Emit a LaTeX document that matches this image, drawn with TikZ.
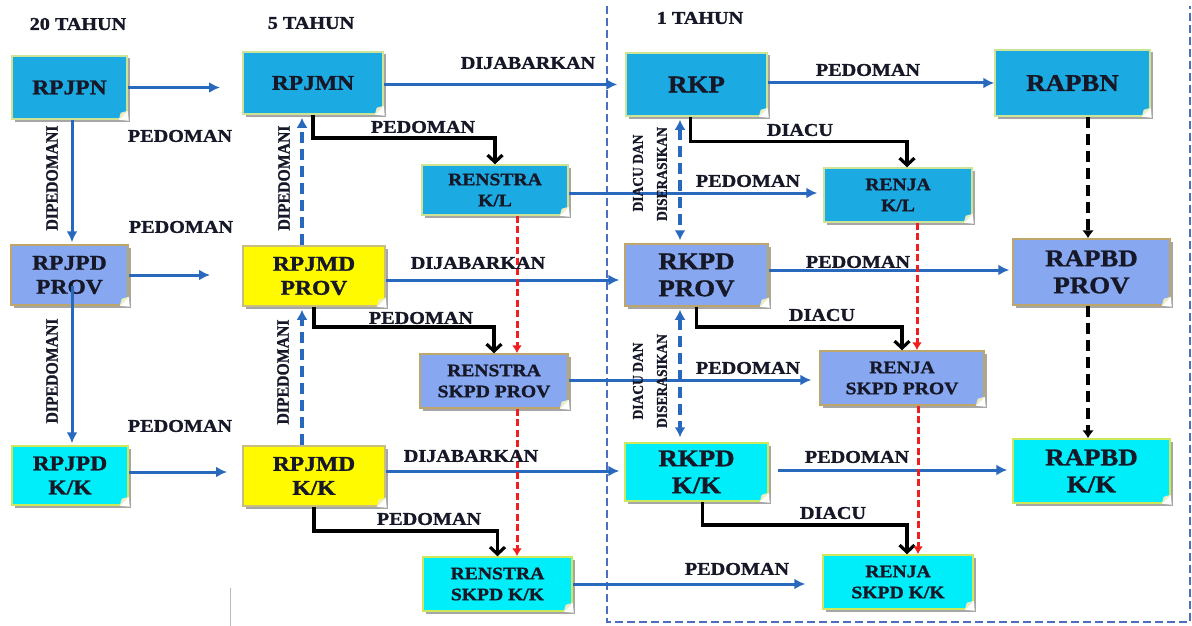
\documentclass[tikz,border=0pt]{standalone}
\usepackage{fontspec}
\setmainfont{Liberation Serif}[FakeStretch=1.12, BoldFeatures={FakeBold=1.2}]
\newfontfamily\vfont{Liberation Serif}[FakeStretch=0.9, BoldFeatures={FakeBold=1}]
\usetikzlibrary{arrows.meta,shadows,calc}
\definecolor{topc}{RGB}{28,170,226}
\definecolor{topb}{RGB}{205,228,150}
\definecolor{provc}{RGB}{135,168,240}
\definecolor{provb}{RGB}{190,165,105}
\definecolor{yelc}{RGB}{255,250,0}
\definecolor{yelb}{RGB}{200,190,130}
\definecolor{kkc}{RGB}{0,238,250}
\definecolor{kkb}{RGB}{205,232,90}
\definecolor{txt}{RGB}{22,24,40}
\definecolor{bline}{RGB}{40,105,190}
\definecolor{framec}{RGB}{75,110,190}
\definecolor{redc}{RGB}{240,30,30}
\definecolor{foldc}{RGB}{236,236,190}
\newcommand\foldcorner[1]{%
  \fill[white] ([xshift=-9pt]#1.south east) -- ([xshift=1pt,yshift=-1pt]#1.south east) -- ([yshift=9pt]#1.south east) -- cycle;
  \fill[foldc] ([xshift=-9pt]#1.south east) -- ([yshift=9pt]#1.south east) -- ([xshift=-7pt,yshift=7pt]#1.south east) -- cycle;}
\begin{document}
\begin{tikzpicture}[x=1pt,y=-1pt,
  box/.style={rectangle, line width=1.5pt, inner sep=0pt, align=center, text=txt,
    drop shadow={shadow xshift=2.5pt, shadow yshift=-2.5pt, opacity=.35, fill=black}},
  topbox/.style={box, fill=topc, draw=topb},
  provbox/.style={box, fill=provc, draw=provb},
  yelbox/.style={box, fill=yelc, draw=yelb},
  kkbox/.style={box, fill=kkc, draw=kkb},
  fa/.style={font=\bfseries\fontsize{21}{24}\selectfont},
  fb/.style={font=\bfseries\fontsize{24}{27}\selectfont},
  fc/.style={font=\bfseries\fontsize{17.5}{21}\selectfont},
  lbl/.style={font=\bfseries\fontsize{18}{20}\selectfont, text=txt, inner sep=0pt},
  vlbl/.style={font=\vfont\bfseries\fontsize{17.5}{19}\selectfont, text=txt, inner sep=0pt, rotate=90},
  dlbl/.style={font=\vfont\bfseries\fontsize{15}{16}\selectfont, text=txt, inner sep=0pt, rotate=90},
  barrow/.style={draw=bline, line width=3pt, -{Latex[length=11pt,width=11pt]}},
  bdash/.style={draw=bline, line width=3.5pt, dash pattern=on 11pt off 6pt, -{Latex[length=10pt,width=11pt]}},
  bdash2/.style={draw=bline, line width=3.5pt, dash pattern=on 11pt off 6pt, {Latex[length=10pt,width=11pt]}-{Latex[length=10pt,width=11pt]}},
  karrow/.style={draw=black, line width=3.2pt, -{Straight Barb[length=7pt,width=15pt]}},
  rarrow/.style={draw=redc, line width=3pt, dash pattern=on 7pt off 3.5pt, -{Latex[length=8pt,width=10pt]}},
  kdash/.style={draw=black, line width=4.5pt, dash pattern=on 11pt off 6pt, -{Latex[length=8pt,width=12pt]}},
  frame/.style={draw=framec, line width=2.4pt, dash pattern=on 8pt off 4pt}
]
\useasboundingbox (0,0) rectangle (1192,626);
\fill[white] (0,0) rectangle (1192,626);

% frame of the one-year zone
\draw[frame] (607,6) -- (607,622) -- (1190,622) -- (1190,6);
\draw[gray!55, line width=1pt] (230,588) -- (230,626);

% headers
\node[lbl] (h20) at (78,24) {20 TAHUN};
\node[lbl] (h5) at (311,23) {5 TAHUN};
\node[lbl] (h1) at (700,18) {1 TAHUN};

% boxes
\node[topbox, fa, minimum width=115pt, minimum height=63pt] (rpjpn) at (69.5,87.5) {RPJPN};
\node[topbox, fa, minimum width=140pt, minimum height=62pt] (rpjmn) at (313,83) {RPJMN};
\node[topbox, fb, minimum width=141pt, minimum height=63pt] (rkp) at (696.5,84.5) {RKP};
\node[topbox, fb, minimum width=155pt, minimum height=66pt] (rapbn) at (1072.5,83) {RAPBN};
\node[topbox, fc, minimum width=146pt, minimum height=50pt] (renkl) at (495,190) {RENSTRA\\K/L};
\node[topbox, fc, minimum width=148pt, minimum height=54pt] (renjakl) at (898,195) {RENJA\\K/L};

\node[provbox, fa, minimum width=117pt, minimum height=60pt] (rpjpdprov) at (69.5,275) {RPJPD\\PROV};
\node[yelbox, fa, minimum width=142pt, minimum height=60pt] (rpjmdprov) at (314,276) {RPJMD\\PROV};
\node[provbox, fb, minimum width=143pt, minimum height=62pt] (rkpdprov) at (696.5,275) {RKPD\\PROV};
\node[provbox, fb, minimum width=157pt, minimum height=66pt] (rapbdprov) at (1091.5,272) {RAPBD\\PROV};
\node[provbox, fc, minimum width=148pt, minimum height=54pt] (renprov) at (494,381) {RENSTRA\\SKPD PROV};
\node[provbox, fc, minimum width=164pt, minimum height=54pt] (renjaprov) at (902,378) {RENJA\\SKPD PROV};

\node[kkbox, fa, minimum width=116pt, minimum height=59pt] (rpjpdkk) at (70,475.5) {RPJPD\\K/K};
\node[yelbox, fa, minimum width=142pt, minimum height=60pt] (rpjmdkk) at (314,476) {RPJMD\\K/K};
\node[kkbox, fb, minimum width=143pt, minimum height=58pt] (rkpdkk) at (696.5,472) {RKPD\\K/K};
\node[kkbox, fb, minimum width=157pt, minimum height=64pt] (rapbdkk) at (1091.5,471) {RAPBD\\K/K};
\node[kkbox, fc, minimum width=149pt, minimum height=54pt] (renkk) at (497.5,584) {RENSTRA\\SKPD K/K};
\node[kkbox, fc, minimum width=150pt, minimum height=54pt] (renjakk) at (898,582) {RENJA\\SKPD K/K};

\foreach \n in {rpjpn,rpjmn,rkp,rapbn,renkl,renjakl,rpjpdprov,rpjmdprov,rkpdprov,rapbdprov,renprov,renjaprov,rpjpdkk,rpjmdkk,rkpdkk,rapbdkk,renkk,renjakk}{\foldcorner{\n}}

% free ends
\coordinate (e1) at (220,87.5);
\coordinate (e2) at (210,275);
\coordinate (e3) at (227,472);

% blue solid arrows
\draw[barrow] (rpjpn.east) -- (e1);
\draw[barrow] (rpjpdprov.east) -- (e2);
\draw[barrow] (rpjpdkk.east |- 0,472) -- (e3);
\draw[barrow] (rpjpn.south -| 72,0) -- ([yshift=2pt]rpjpdprov.north -| 72,0);
\draw[barrow] ([yshift=20pt]rpjpdprov.south -| 72,0) -- ([yshift=2pt]rpjpdkk.north -| 72,0);
\draw[barrow, shorten >=8pt] (rkp.west -| rpjmn.east) -- (rkp.west);
\draw[barrow] (rapbn.west -| rkp.east) -- (rapbn.west);
\draw[barrow, shorten >=5pt] (rpjmdprov.east |- 0,280) -- (rkpdprov.west |- 0,280);
\draw[barrow, shorten >=5pt] (rpjmdkk.east |- 0,471) -- (rkpdkk.west |- 0,471);
\draw[barrow, shorten >=3pt] (rkpdprov.east |- 0,270) -- (rapbdprov.west |- 0,270);
\draw[barrow, shorten >=5pt] ([xshift=9pt]rkpdkk.east |- 0,470) -- (rapbdkk.west |- 0,470);
\draw[barrow, shorten >=6pt] (renkl.east |- 0,193) -- (renjakl.west |- 0,193);
\draw[barrow, shorten >=8pt] (renprov.east |- 0,380) -- (renjaprov.west |- 0,380);
\draw[barrow, shorten >=17pt] (renkk.east |- 0,584) -- (renjakk.west |- 0,584);

% blue dashed arrows
\draw[bdash, shorten >=3pt] (rpjmdprov.north -| 302,0) -- (rpjmn.south -| 302,0);
\draw[bdash, shorten >=3pt] (rpjmdkk.north -| 302,0) -- (rpjmdprov.south -| 302,0);
\draw[bdash2, shorten >=3pt, shorten <=3pt] (rkp.south -| 680,0) -- (rkpdprov.north -| 680,0);
\draw[bdash2, shorten >=5pt, shorten <=3pt] (rkpdprov.south -| 680,0) -- (rkpdkk.north -| 680,0);

% black elbow arrows
\draw[karrow] (rpjmn.south) -- (rpjmn.south |- 0,138) -| (renkl.north);
\draw[karrow] (rpjmdprov.south) -- (rpjmdprov.south |- 0,327) -| (renprov.north);
\draw[karrow] (rpjmdkk.south) -- (rpjmdkk.south |- 0,531) -| (renkk.north);
\draw[karrow] ([xshift=-6pt]rkp.south) -- ++(0,25) -| ([xshift=9pt]renjakl.north);
\draw[karrow] (rkpdprov.south) -- (rkpdprov.south |- 0,327) -| (renjaprov.north);
\draw[karrow] ([xshift=6pt]rkpdkk.south) -- ([xshift=6pt]rkpdkk.south |- 0,525) -| ([xshift=9pt]renjakk.north);

% red dashed arrows
\draw[rarrow] (renkl.south -| 517,0) -- (renprov.north -| 517,0);
\draw[rarrow] (renprov.south -| 517,0) -- (renkk.north -| 517,0);
\draw[rarrow] (renjakl.south -| 917,0) -- (renjaprov.north -| 917,0);
\draw[rarrow] (renjaprov.south -| 918,0) -- (renjakk.north -| 918,0);

% black dashed arrows
\draw[kdash] (rapbn.south -| 1088,0) -- (rapbdprov.north -| 1088,0);
\draw[kdash] (rapbdprov.south -| 1088,0) -- (rapbdkk.north -| 1088,0);

% labels
\node[lbl] (l1) at (180,136) {PEDOMAN};
\node[lbl] (l2) at (528,63) {DIJABARKAN};
\node[lbl] (l3) at (868,70) {PEDOMAN};
\node[lbl] (l4) at (181,227) {PEDOMAN};
\node[lbl] (l5) at (180,426) {PEDOMAN};
\node[lbl] (l6) at (423,127) {PEDOMAN};
\node[lbl] (l7) at (421,318) {PEDOMAN};
\node[lbl] (l8) at (429,519) {PEDOMAN};
\node[lbl] (l9) at (800,130) {DIACU};
\node[lbl] (l10) at (822,315) {DIACU};
\node[lbl] (l11) at (833,513) {DIACU};
\node[lbl] (l12) at (748,181) {PEDOMAN};
\node[lbl] (l13) at (748,368) {PEDOMAN};
\node[lbl] (l14) at (737,569) {PEDOMAN};
\node[lbl] (l15) at (478,263) {DIJABARKAN};
\node[lbl] (l16) at (471,456) {DIJABARKAN};
\node[lbl] (l17) at (858,262) {PEDOMAN};
\node[lbl] (l18) at (857,457) {PEDOMAN};

\node[vlbl] (v1) at (52,178) {DIPEDOMANI};
\node[vlbl] (v2) at (52,371) {DIPEDOMANI};
\node[vlbl] (v3) at (284,178) {DIPEDOMANI};
\node[vlbl] (v4) at (283,372) {DIPEDOMANI};

\node[dlbl] (d1) at (638,173) {DIACU DAN};
\node[dlbl] (d2) at (662,174) {DISERASIKAN};
\node[dlbl] (d3) at (638,381) {DIACU DAN};
\node[dlbl] (d4) at (662,381) {DISERASIKAN};
\end{tikzpicture}
\end{document}
